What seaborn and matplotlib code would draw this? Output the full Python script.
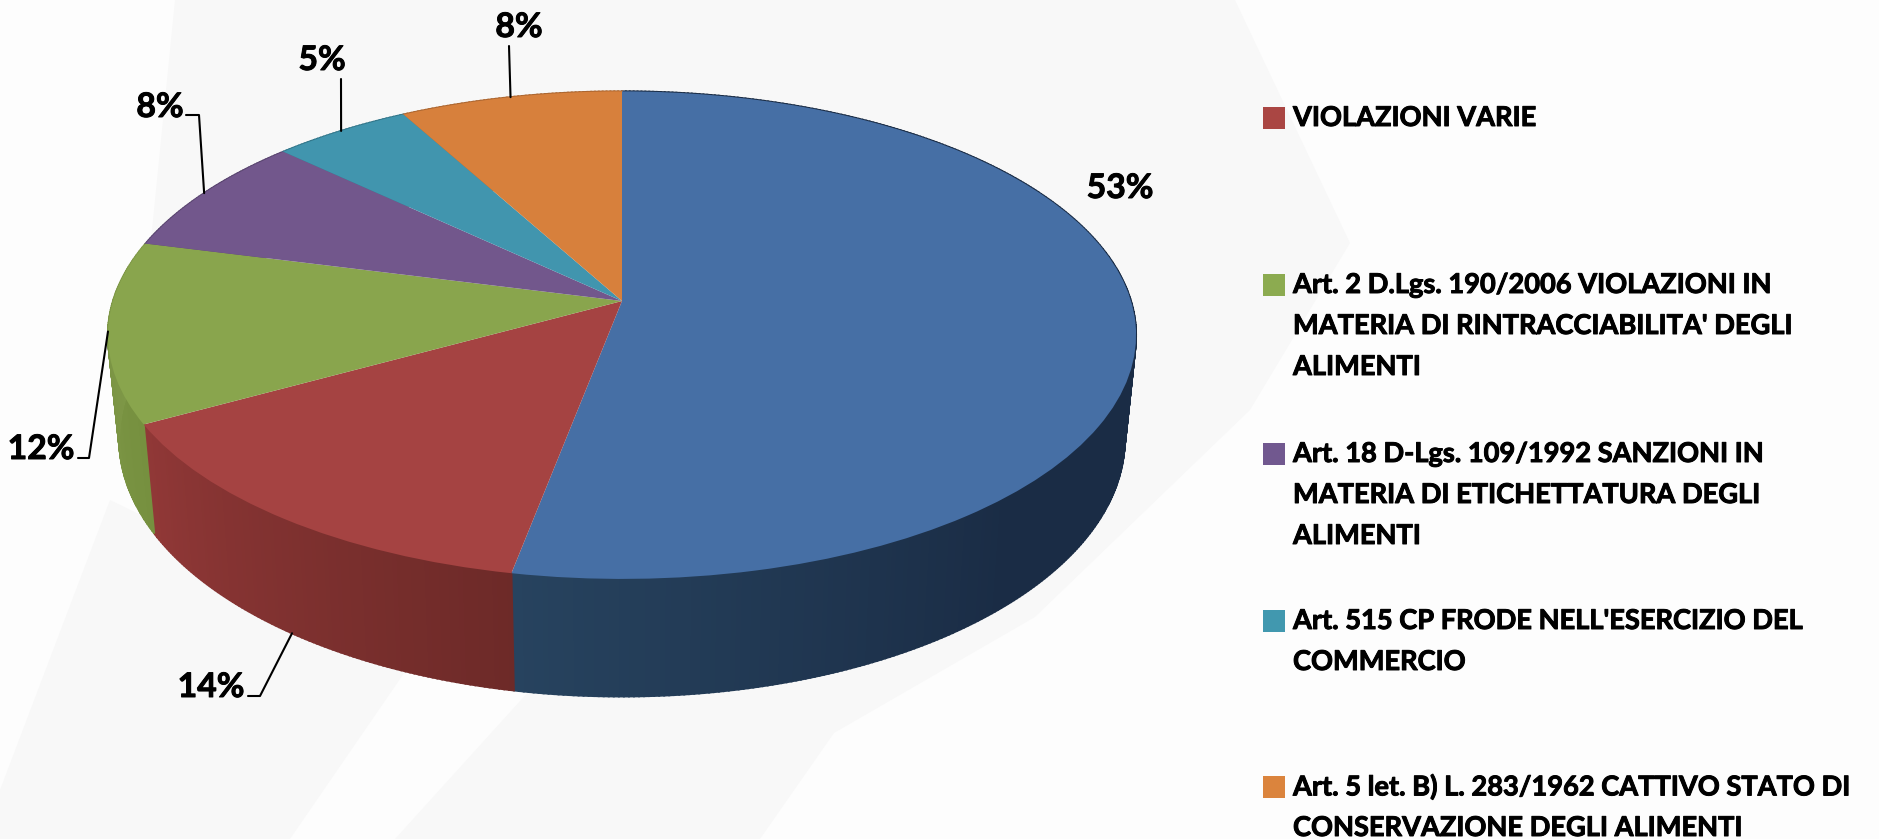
import numpy as np
import seaborn as sns
import matplotlib
matplotlib.use("Agg")
import matplotlib.pyplot as plt
import matplotlib.patheffects as pe
from matplotlib.colors import to_rgb
from matplotlib.transforms import Transform

# Dati del grafico
values = [53, 14, 12, 8, 5, 8]
pct_labels = ["53%", "14%", "12%", "8%", "5%", "8%"]
legend_labels = [
    "VIOLAZIONI VARIE",
    "Art. 2 D.Lgs. 190/2006 VIOLAZIONI IN\nMATERIA DI RINTRACCIABILITA' DEGLI\nALIMENTI",
    "Art. 18 D-Lgs. 109/1992 SANZIONI IN\nMATERIA DI ETICHETTATURA DEGLI\nALIMENTI",
    "Art. 515 CP FRODE NELL'ESERCIZIO DEL\nCOMMERCIO",
    "Art. 5 let. B) L. 283/1962 CATTIVO STATO DI\nCONSERVAZIONE DEGLI ALIMENTI",
]

# Colori
top_colors = ["#466FA5", "#A54342", "#89A54D", "#72578C", "#4195AE", "#D7803C"]
legend_colors = ["#AA4643", "#8CAB50", "#71588F", "#4198AF", "#DB843D"]
side_start = ["#1A2C45", "#6D2A28", "#76903F", "#5A4570", "#33778B", "#AC6630"]
side_end = ["#27435F", "#913837", "#819A4A", "#5A4570", "#33778B", "#AC6630"]
side_ramp = [0.72, 0, 0, 0, 0, 0]

# Posizioni (pixel) di legenda e etichette
legend_y = [118, 285, 454, 621, 787]
line_pitch = 41
label_pos = [(1120, 188), (211, 687), (41, 449), (160, 107), (322, 60), (519, 27)]
leader_mid = [None, [(260, 696), (248, 696)], [(89, 458), (78, 458)],
              [(199, 115), (186, 115)], [(341, 79)], [(509, 46)]]

sns.set_theme(style="white")
plt.rcParams["font.family"] = ["Lato", "DejaVu Sans"]
sns.set_palette(top_colors)


class Tilt(Transform):
    # proiezione prospettica del cerchio unitario sul piano del disegno
    input_dims = 2
    output_dims = 2
    has_inverse = False

    def __init__(self, sx=1.0, sy=1.0, drop=0.0):
        super().__init__()
        self.sx, self.sy, self.drop = sx, sy, drop

    def transform_non_affine(self, xy):
        xy = np.asarray(xy, dtype=float)
        den = 1 + 0.14 * xy[:, 1]
        px = 622 + self.sx * 509 * xy[:, 0] / den
        py = 301 - self.sy * 239 * xy[:, 1] / den + self.drop
        return np.column_stack([px, py])


top = Tilt()
bottom = Tilt(sx=0.978, sy=1.056, drop=102)

fig = plt.figure(figsize=(18.79, 8.39), dpi=100)
ax = fig.add_axes([0, 0, 1, 1])

wedges, _ = ax.pie(values, colors=top_colors, startangle=90, counterclock=False,
                   radius=1, wedgeprops={"linewidth": 0, "zorder": 5})
ax.set_aspect("auto")
ax.set_xlim(0, 1879)
ax.set_ylim(839, 0)
ax.axis("off")
for w in wedges:
    w.set_transform(top + ax.transData)

# sfondo filigrana
ax.fill([175, 1235, 1350, 1250, 1035, 834, 760, 395, 530, 130, 150],
        [0, 0, 243, 410, 617, 733, 839, 839, 690, 470, 250],
        color="#F8F8F8", lw=0, zorder=0)
ax.fill([0, 110, 420, 290, 0], [790, 500, 650, 839, 839], color="#F8F8F8", lw=0, zorder=0)

# parete laterale
edges = 90 - np.concatenate([[0], np.cumsum(values)]) * 3.6
for i in range(len(values)):
    th = np.linspace(edges[i], edges[i + 1], int(abs(edges[i + 1] - edges[i]) * 2) + 2)
    for j in range(len(th) - 1):
        seg = np.radians(th[j:j + 2])
        ring = np.column_stack([np.cos(seg), np.sin(seg)])
        up = top.transform(ring)
        lo = bottom.transform(ring)
        t = (j + 0.5) / (len(th) - 1)
        t = np.clip((t - side_ramp[i]) / (1 - side_ramp[i]), 0, 1)
        col = (1 - t) * np.array(to_rgb(side_start[i])) + t * np.array(to_rgb(side_end[i]))
        ax.fill([up[0, 0], up[1, 0], lo[1, 0], lo[0, 0]],
                [up[0, 1], up[1, 1], lo[1, 1], lo[0, 1]],
                color=col, lw=1.4, zorder=3)

# etichette e linee guida
bold = [pe.withStroke(linewidth=0.7, foreground="black")]
mids = np.radians((edges[:-1] + edges[1:]) / 2)
for i, lab in enumerate(pct_labels):
    ax.text(label_pos[i][0], label_pos[i][1], lab, fontsize=24.3, fontweight="bold",
            color="black", ha="center", va="center", zorder=7, path_effects=bold)
    if leader_mid[i] is None:
        continue
    proj = bottom if i == 1 else top
    anchor = proj.transform(np.array([[np.cos(mids[i]), np.sin(mids[i])]]))[0]
    pts = [tuple(anchor)] + leader_mid[i]
    ax.plot([p[0] for p in pts], [p[1] for p in pts], color="black", lw=1.5, zorder=6)

# legenda
for y, lab, col in zip(legend_y, legend_labels, legend_colors):
    ax.scatter([1274], [y], marker="s", s=233, color=col, linewidths=0, zorder=6)
    for k, line in enumerate(lab.split("\n")):
        ax.text(1293, y + k * line_pitch, line, fontsize=19.6, fontweight="bold",
                color="black", ha="left", va="center", zorder=7, path_effects=bold)

fig.savefig("out.png", dpi=100, facecolor="#FDFDFD")
